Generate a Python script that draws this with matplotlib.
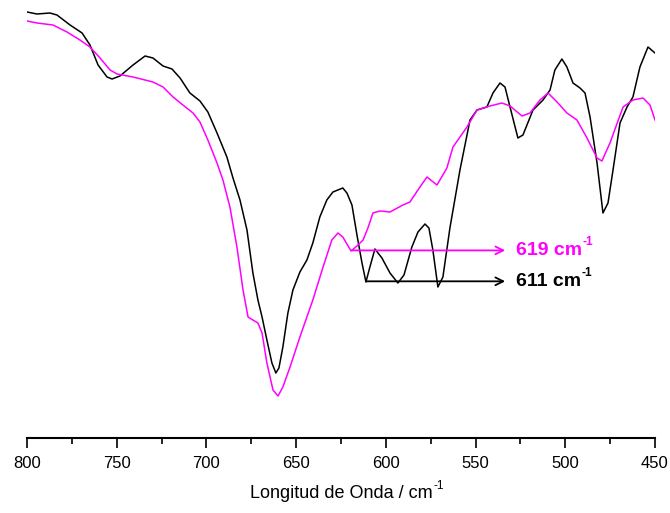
"""IR spectra, 800-450 cm-1, with two marked bands (611 and 619 cm-1)."""

import numpy as np
from matplotlib import pyplot as plt
from matplotlib.ticker import MultipleLocator

plt.rcParams["font.family"] = ["Liberation Sans", "DejaVu Sans"]

# black spectrum (wavenumber / cm-1, intensity a.u.)
wn_black = [800, 794.4, 787.2, 783.3, 776.0, 769.3, 764.9, 760.4, 755.4, 752.6,
            748.2, 740.9, 734.2, 729.8, 724.2, 719.2, 714.7, 709.2, 703.6, 699.2,
            694.1, 688.6, 685.2, 681.3, 677.4, 674.1, 671.3, 669.0, 666.3, 663.5,
            661.3, 659.6, 657.4, 654.6, 651.8, 647.9, 644.0, 640.7, 636.8, 632.9,
            629.5, 624.0, 621.7, 618.9, 616.1, 613.3, 611.1, 608.9, 606.1, 602.2,
            597.7, 593.3, 589.9, 585.5, 582.1, 578.2, 576.0, 573.8, 571.0, 568.2,
            564.3, 558.7, 553.1, 549.2, 543.7, 540.3, 536.4, 533.6, 530.8, 526.4,
            523.6, 518.0, 512.4, 508.5, 505.8, 501.9, 499.1, 495.7, 491.8, 489.0,
            486.2, 482.3, 479.0, 476.2, 473.4, 469.5, 465.6, 462.3, 458.4, 453.9,
            450.0]
int_black = [426, 424, 425, 423, 413, 405, 393, 373, 361, 359,
             362, 373, 382, 380, 372, 369, 360, 345, 337, 326,
             305, 281, 260, 238, 208, 165, 138, 121, 98, 75,
             65, 70, 91, 125, 148, 166, 178, 195, 221, 238,
             246, 250, 245, 233, 203, 175, 156, 171, 189, 180,
             165, 155, 163, 191, 206, 214, 210, 188, 151, 161,
             210, 268, 318, 328, 331, 345, 355, 351, 331, 300,
             303, 328, 338, 348, 368, 379, 371, 355, 350, 345,
             321, 275, 225, 235, 268, 315, 331, 341, 371, 391,
             385]

# magenta spectrum
wn_mag = [800, 794.4, 785.5, 777.7, 770.5, 764.9, 759.3, 753.7, 749.8, 740.9,
          729.8, 724.2, 718.6, 713.1, 707.5, 703.6, 699.2, 694.1, 690.8, 686.9,
          683.0, 679.6, 676.8, 674.1, 671.3, 669.0, 666.3, 662.9, 660.1, 657.4,
          653.4, 647.9, 640.7, 635.0, 630.1, 626.7, 624.0, 619.4, 616.1, 612.7,
          610.0, 607.2, 603.3, 597.7, 590.5, 586.6, 581.0, 577.1, 571.5, 566.0,
          562.6, 554.8, 549.2, 542.0, 535.3, 530.8, 524.1, 519.7, 514.1, 509.6,
          504.6, 499.1, 493.5, 487.9, 482.3, 479.6, 475.1, 467.8, 462.3, 456.7,
          452.8, 450.0]
int_mag = [417, 415, 413, 406, 398, 391, 380, 368, 364, 361,
           356, 351, 341, 333, 325, 316, 298, 275, 258, 231,
           191, 148, 121, 118, 115, 105, 75, 48, 42, 51,
           71, 101, 138, 171, 198, 205, 201, 187, 192, 198,
           210, 225, 227, 226, 233, 236, 251, 261, 253, 270,
           291, 311, 328, 332, 335, 332, 322, 325, 338, 345,
           336, 325, 318, 300, 280, 277, 295, 331, 338, 340,
           333, 318]

# marked bands
band_pos = [619, 611]
band_labels = ["619 cm", "611 cm"]
band_colors = ["#ff00ff", "black"]
arrow_end = 533.5
label_x = 527.5


def add_superscript(txt_artist, sup, size, color="black", weight="normal", lift=4.5):
    # small "-1" placed at the top-right corner of a text artist
    ax.annotate(sup, xy=(1, 1), xycoords=txt_artist, xytext=(0.5, lift),
                textcoords="offset points", ha="left", va="top",
                fontsize=size, color=color, fontweight=weight)


fig = plt.figure(figsize=(6.7, 5.13), dpi=100)
ax = fig.add_axes([27 / 670, 75 / 513, 628 / 670, 438 / 513])

ax.plot(wn_black, int_black, color="black", lw=1.1)
ax.plot(wn_mag, int_mag, color="#ff00ff", lw=1.1)

for pos, label, col in zip(band_pos, band_labels, band_colors):
    src = wn_black if col == "black" else wn_mag
    vals = int_black if col == "black" else int_mag
    y = np.interp(-pos, -np.array(src), vals)
    ax.annotate("", xy=(arrow_end, y), xytext=(pos, y),
                arrowprops=dict(arrowstyle="->", color=col, lw=1.3,
                                mutation_scale=14, shrinkA=0, shrinkB=0))
    t = ax.text(label_x, y, label, color=col, fontsize=14, fontweight="bold",
                ha="left", va="center")
    add_superscript(t, "-1", 8.5, color=col, weight="bold")

ax.set_xlim(800, 450)
ax.set_ylim(0, 438)
ax.xaxis.set_major_locator(MultipleLocator(50))
ax.xaxis.set_minor_locator(MultipleLocator(25))
ax.tick_params(axis="x", which="major", length=7, width=1.2, labelsize=12, pad=6)
ax.tick_params(axis="x", which="minor", length=4, width=1.2)
ax.set_yticks([])
for side in ["left", "right", "top"]:
    ax.spines[side].set_visible(False)
ax.spines["bottom"].set_linewidth(1.5)

xl = ax.set_xlabel("Longitud de Onda / cm", fontsize=13, labelpad=10)
add_superscript(xl, "-1", 8.5, lift=3.5)

plt.savefig("out.png", dpi=100)
plt.close()
